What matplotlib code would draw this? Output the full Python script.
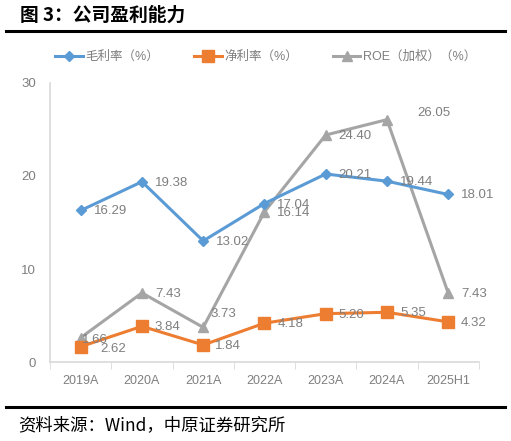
import matplotlib
matplotlib.use("Agg")
import matplotlib.pyplot as plt
from matplotlib.lines import Line2D

plt.rcParams['font.family'] = ['Liberation Sans', 'Noto Sans CJK SC', 'DejaVu Sans']

# data
years = ['2019A', '2020A', '2021A', '2022A', '2023A', '2024A', '2025H1']
gross = [16.29, 19.38, 13.02, 17.04, 20.21, 19.44, 18.01]
net = [1.66, 3.84, 1.84, 4.18, 5.20, 5.35, 4.32]
roe = [2.62, 7.43, 3.73, 16.14, 24.40, 26.05, 7.43]
names = ['毛利率（%）', '净利率（%）', 'ROE（加权）（%）']

c_blue = '#5B9BD5'
c_orange = '#ED7D31'
c_gray = '#A5A5A5'
c_text = '#7F7F7F'

fig = plt.figure(figsize=(5.11, 4.41), dpi=100)
ax = fig.add_axes([0.098, 0.179, 0.839, 0.633])

x = list(range(len(years)))
ax.plot(x, roe, color=c_gray, lw=2.2, marker='^', ms=7, zorder=2)
ax.plot(x, gross, color=c_blue, lw=2.2, marker='D', ms=5, zorder=3)
ax.plot(x, net, color=c_orange, lw=2.2, marker='s', ms=8, zorder=3)

# label offsets in pixels
def put(vals, offs):
    for i, v in enumerate(vals):
        dx, dy = offs.get(i, (13, -1))
        ax.annotate(f'{v:.2f}', (i, v), xytext=(dx, dy), textcoords='offset pixels',
                    ha='left', va='center', fontsize=9.5, color=c_text, zorder=5)

put(gross, {})
put(net, {0: (1, 7), 2: (12, -1)})
put(roe, {0: (20, -11), 2: (7, 13), 5: (30, 7)})

ax.set_xlim(-0.5, 6.5)
ax.set_ylim(0, 30)
ax.set_yticks([0, 10, 20, 30])
ax.set_xticks(x)
ax.set_xticklabels(years)
ax.set_xticks([i - 0.5 for i in range(len(years) + 1)], minor=True)
ax.tick_params(axis='x', which='major', length=0, pad=9, labelsize=9, colors=c_text)
ax.tick_params(axis='x', which='minor', length=5, color='#D9D9D9', direction='out')
ax.tick_params(axis='y', length=0, pad=10, labelsize=9.5, colors=c_text)
for s in ['top', 'right']:
    ax.spines[s].set_visible(False)
for s in ['left', 'bottom']:
    ax.spines[s].set_color('#D9D9D9')
    ax.spines[s].set_linewidth(1.2)

handles = [
    Line2D([], [], color=c_blue, lw=2.2, marker='D', ms=5),
    Line2D([], [], color=c_orange, lw=2.2, marker='s', ms=8),
    Line2D([], [], color=c_gray, lw=2.2, marker='^', ms=7),
]
fig.legend(handles, names, loc='center', bbox_to_anchor=(0.52, 0.871), ncol=3,
           frameon=False, fontsize=9, labelcolor=c_text, handlelength=2.2,
           handletextpad=0.2, columnspacing=2.8)

fig.text(0.039, 0.966, '图 3：公司盈利能力', fontsize=13.5, fontweight='bold',
         family=['Noto Sans CJK SC'], va='center', ha='left')
fig.add_artist(Line2D([0.012, 0.988], [0.930, 0.930], color='black', lw=2.2))
fig.add_artist(Line2D([0.012, 0.988], [0.077, 0.077], color='black', lw=2.2))
fig.text(0.035, 0.036, '资料来源：Wind，中原证券研究所', fontsize=12.5,
         family=['Noto Sans CJK SC'], va='center', ha='left')

fig.savefig('out.png', dpi=100)
